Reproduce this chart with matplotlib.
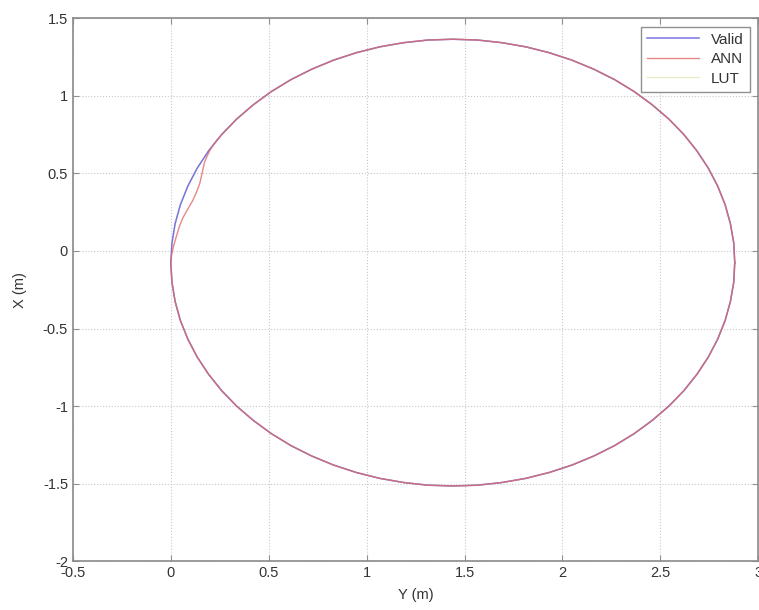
import numpy as np
import matplotlib
matplotlib.use('Agg')
import matplotlib.pyplot as plt

# trajectory (horizontal = Y, vertical = X)
valid_y = [2.880, 2.875, 2.858, 2.831, 2.793, 2.745, 2.687, 2.620, 2.543, 2.458,
           2.366, 2.266, 2.160, 2.049, 1.933, 1.813, 1.690, 1.566, 1.440,
           1.314, 1.190, 1.067, 0.947, 0.831, 0.720, 0.614, 0.514, 0.422, 0.337,
           0.260, 0.193, 0.135, 0.087, 0.049, 0.022, 0.006, 0.000,
           0.006, 0.022, 0.049, 0.087, 0.135, 0.193, 0.260, 0.337, 0.422, 0.514,
           0.614, 0.720, 0.831, 0.947, 1.067, 1.190, 1.314, 1.440,
           1.566, 1.690, 1.813, 1.933, 2.049, 2.160, 2.266, 2.366, 2.458, 2.543,
           2.620, 2.687, 2.745, 2.793, 2.831, 2.858, 2.875, 2.880]
valid_x = [-0.075, 0.051, 0.175, 0.298, 0.418, 0.534, 0.645, 0.751, 0.851, 0.943,
           1.028, 1.105, 1.172, 1.230, 1.278, 1.316, 1.343, 1.360, 1.365,
           1.360, 1.343, 1.316, 1.278, 1.230, 1.172, 1.105, 1.028, 0.943, 0.851,
           0.751, 0.645, 0.534, 0.418, 0.298, 0.175, 0.051, -0.075,
           -0.201, -0.325, -0.448, -0.568, -0.684, -0.795, -0.901, -1.001, -1.093, -1.178,
           -1.255, -1.322, -1.380, -1.428, -1.466, -1.493, -1.510, -1.515,
           -1.510, -1.493, -1.466, -1.428, -1.380, -1.322, -1.255, -1.178, -1.093, -1.001,
           -0.901, -0.795, -0.684, -0.568, -0.448, -0.325, -0.201, -0.075]

ann_y = [2.880, 2.875, 2.858, 2.831, 2.793, 2.745, 2.687, 2.620, 2.543, 2.458,
         2.366, 2.266, 2.160, 2.049, 1.933, 1.813, 1.690, 1.566, 1.440,
         1.314, 1.190, 1.067, 0.947, 0.831, 0.720, 0.614, 0.514, 0.422, 0.337,
         0.262, 0.238, 0.218, 0.200, 0.185, 0.172, 0.160, 0.148, 0.132, 0.112,
         0.086, 0.062, 0.044, 0.030, 0.016, 0.005, 0.000,
         0.006, 0.022, 0.049, 0.087, 0.135, 0.193, 0.260, 0.337, 0.422, 0.514,
         0.614, 0.720, 0.831, 0.947, 1.067, 1.190, 1.314, 1.440,
         1.566, 1.690, 1.813, 1.933, 2.049, 2.160, 2.266, 2.366, 2.458, 2.543,
         2.620, 2.687, 2.745, 2.793, 2.831, 2.858, 2.875, 2.880]
ann_x = [-0.075, 0.051, 0.175, 0.298, 0.418, 0.534, 0.645, 0.751, 0.851, 0.943,
         1.028, 1.105, 1.172, 1.230, 1.278, 1.316, 1.343, 1.360, 1.365,
         1.360, 1.343, 1.316, 1.278, 1.230, 1.172, 1.105, 1.028, 0.943, 0.851,
         0.752, 0.718, 0.686, 0.650, 0.610, 0.570, 0.502, 0.435, 0.380, 0.325,
         0.268, 0.214, 0.158, 0.100, 0.040, -0.020, -0.075,
         -0.201, -0.325, -0.448, -0.568, -0.684, -0.795, -0.901, -1.001, -1.093, -1.178,
         -1.255, -1.322, -1.380, -1.428, -1.466, -1.493, -1.510, -1.515,
         -1.510, -1.493, -1.466, -1.428, -1.380, -1.322, -1.255, -1.178, -1.093, -1.001,
         -0.901, -0.795, -0.684, -0.568, -0.448, -0.325, -0.201, -0.075]

lut_y = valid_y
lut_x = valid_x

x_ticks = [-0.5, 0, 0.5, 1, 1.5, 2, 2.5, 3]
x_labels = ['-0.5', '0', '0.5', '1', '1.5', '2', '2.5', '3']
y_ticks = [-2, -1.5, -1, -0.5, 0, 0.5, 1, 1.5]
y_labels = ['-2', '-1.5', '-1', '-0.5', '0', '0.5', '1', '1.5']

plt.rcParams['font.family'] = ['Liberation Sans', 'DejaVu Sans']

fig = plt.figure(figsize=(7.59, 6.10), dpi=100)
ax = fig.add_axes([0.096, 0.080, 0.903, 0.890])

ax.plot(lut_y, lut_x, color='#e4ecc8', lw=1.0, label='LUT', zorder=2)
ax.plot(valid_y, valid_x, color='#7a74e0', lw=1.1, label='Valid', zorder=3)
ax.plot(ann_y, ann_x, color='#e06a6a', lw=1.0, alpha=0.8, label='ANN', zorder=4)

ax.set_xlim(-0.5, 3)
ax.set_ylim(-2, 1.5)
ax.set_xticks(x_ticks)
ax.set_xticklabels(x_labels)
ax.set_yticks(y_ticks)
ax.set_yticklabels(y_labels)
ax.tick_params(direction='in', length=4, colors='#909090', labelcolor='#333333',
               labelsize=10.5, top=True, right=True)
ax.grid(True, linestyle=':', color='#c8c8c8', linewidth=0.8)
for s in ax.spines.values():
    s.set_color('#8a8a8a')
    s.set_linewidth(1.2)

ax.set_xlabel('Y (m)', fontsize=10.5, color='#333333', labelpad=6)
ax.set_ylabel('X (m)', fontsize=10.5, color='#333333', labelpad=11)

h, l = ax.get_legend_handles_labels()
order = [1, 2, 0]
leg = ax.legend([h[i] for i in order], [l[i] for i in order], loc='upper right',
                fontsize=11, fancybox=False, edgecolor='#909090', framealpha=1,
                handlelength=3.4, borderaxespad=0.55, labelspacing=0.35)
leg.get_frame().set_linewidth(1.0)
for t in leg.get_texts():
    t.set_color('#333333')

fig.savefig('out.png', dpi=100)
